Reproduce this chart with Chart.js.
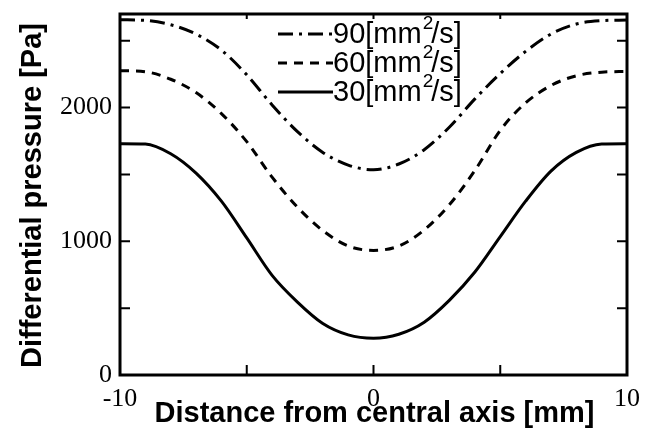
<!DOCTYPE html>
<html>
<head>
<meta charset="utf-8">
<script src="https://cdn.jsdelivr.net/npm/chart.js@4"></script>
<style>
html,body{margin:0;padding:0;background:#fff;}
</style>
</head>
<body>
<canvas id="pressureChart" width="652" height="429"></canvas>
<script>
/* =========================
   DATA
========================= */

const distances = [-10,-9,-8,-7,-6,-5,-4,-3,-2,-1,0,1,2,3,4,5,6,7,8,9,10];

const visc30 = [1730,1728,1655,1510,1300,1025,745,545,385,300,275,305,395,560,770,1035,1300,1525,1665,1728,1730];
const visc60 = [2276,2268,2212,2112,1955,1745,1480,1255,1080,965,932,965,1085,1275,1530,1830,2035,2165,2238,2265,2270];
const visc90 = [2657,2652,2620,2550,2430,2245,2020,1820,1665,1570,1535,1578,1685,1855,2065,2255,2420,2550,2625,2650,2655];

const seriesNames = ["30","60","90"];

const xTickValues = [-10,-5,0,5,10];
const xTickLabels = [-10,0,10];
const yTickValues = [0,500,1000,1500,2000,2500];
const yTickLabels = [0,1000,2000];

const xTitle = "Distance from central axis [mm]";
const yTitle = "Differential pressure [Pa]";


/* =========================
   HELPERS
========================= */

function toPoints(values){

    return distances.map(
        (x,i) => ({x:x, y:values[i]})
    );

}

function makeSeries(name, values, dash){

    return {
        label:name,
        data:toPoints(values),
        borderColor:"#000",
        borderWidth:3,
        borderDash:dash,
        pointRadius:0,
        fill:false,
        showLine:true,
        cubicInterpolationMode:"monotone"
    };

}


/* =========================
   FRAME + INNER TICKS + TITLES
========================= */

const framePlugin = {

    id:"framePlugin",

    afterDraw(chart){

        const ctx = chart.ctx;
        const area = chart.chartArea;
        const xs = chart.scales.x;
        const ys = chart.scales.y;

        ctx.save();
        ctx.strokeStyle = "#000";
        ctx.fillStyle = "#000";
        ctx.setLineDash([]);

        // inner tick marks
        ctx.lineWidth = 2;
        ctx.beginPath();

        xs.ticks.forEach(t => {
            if(t.value === xs.min || t.value === xs.max) return;
            const px = xs.getPixelForValue(t.value);
            ctx.moveTo(px, area.bottom);
            ctx.lineTo(px, area.bottom - 10);
            ctx.moveTo(px, area.top);
            ctx.lineTo(px, area.top + 5);
        });

        ys.ticks.forEach(t => {
            if(t.value === ys.min) return;
            const py = ys.getPixelForValue(t.value);
            ctx.moveTo(area.left, py);
            ctx.lineTo(area.left + 10, py);
            ctx.moveTo(area.right, py);
            ctx.lineTo(area.right - 10, py);
        });

        ctx.stroke();

        // frame
        ctx.lineWidth = 3;
        ctx.strokeRect(
            area.left, area.top,
            area.right - area.left,
            area.bottom - area.top
        );

        // axis titles
        ctx.font = 'bold 29px "Liberation Sans"';
        ctx.textAlign = "center";
        ctx.textBaseline = "alphabetic";

        ctx.fillText(
            xTitle,
            (area.left + area.right) / 2 + 1,
            422
        );

        ctx.translate(41, (area.top + area.bottom) / 2 + 1);
        ctx.rotate(-Math.PI / 2);
        ctx.fillText(yTitle, 0, 0);

        ctx.restore();

    }

};


/* =========================
   LEGEND
========================= */

const legendPlugin = {

    id:"legendPlugin",

    afterDraw(chart){

        const ctx = chart.ctx;
        const area = chart.chartArea;
        const sets = chart.data.datasets.slice().reverse();

        const lineStart = area.left + 158;
        const lineEnd = area.left + 213;

        ctx.save();
        ctx.strokeStyle = "#000";
        ctx.fillStyle = "#000";
        ctx.lineWidth = 3;

        sets.forEach((ds,i) => {

            const y = area.top + 20 + i * 29;

            ctx.setLineDash(ds.borderDash || []);
            ctx.beginPath();
            ctx.moveTo(lineStart, y);
            ctx.lineTo(lineEnd, y);
            ctx.stroke();

            ctx.textBaseline = "middle";
            ctx.textAlign = "left";

            let x = lineEnd;
            ctx.font = '29px "Liberation Sans"';
            const head = ds.label + "[mm";
            ctx.fillText(head, x, y + 1);
            x += ctx.measureText(head).width + 1;

            ctx.font = '19px "Liberation Sans"';
            ctx.fillText("2", x, y - 10);
            x += ctx.measureText("2").width - 2;

            ctx.font = '29px "Liberation Sans"';
            ctx.fillText("/s]", x, y + 1);

        });

        ctx.restore();

    }

};


/* =========================
   CHART
========================= */

const canvas = document.getElementById("pressureChart");

new Chart(canvas,{

    type:"scatter",

    data:{
        datasets:[
            makeSeries(seriesNames[0], visc30, []),
            makeSeries(seriesNames[1], visc60, [9,7]),
            makeSeries(seriesNames[2], visc90, [15,6,3,6])
        ]
    },

    options:{

        responsive:false,
        animation:false,
        devicePixelRatio:1,

        layout:{
            padding:{top:14, right:25, left:0, bottom:0}
        },

        plugins:{
            legend:{display:false},
            tooltip:{enabled:false}
        },

        scales:{

            x:{
                type:"linear",
                min:-10,
                max:10,
                afterBuildTicks:scale => {
                    scale.ticks = xTickValues.map(v => ({value:v}));
                },
                afterFit:scale => {
                    scale.height = 54;
                    scale.paddingLeft = 0;
                    scale.paddingRight = 0;
                },
                grid:{display:false, drawTicks:false},
                ticks:{
                    autoSkip:false,
                    maxRotation:0,
                    padding:9,
                    color:"#000",
                    font:{family:"Liberation Serif", size:26},
                    callback:value =>
                        xTickLabels.includes(value) ? String(value) : ""
                }
            },

            y:{
                type:"linear",
                min:0,
                max:2700,
                afterBuildTicks:scale => {
                    scale.ticks = yTickValues.map(v => ({value:v}));
                },
                afterFit:scale => {
                    scale.width = 120;
                    scale.paddingTop = 0;
                    scale.paddingBottom = 0;
                },
                grid:{display:false, drawTicks:false},
                ticks:{
                    autoSkip:false,
                    padding:8,
                    color:"#000",
                    font:{family:"Liberation Serif", size:26},
                    callback:value =>
                        yTickLabels.includes(value) ? String(value) : ""
                }
            }

        }

    },

    plugins:[framePlugin, legendPlugin]

});
</script>
</body>
</html>
